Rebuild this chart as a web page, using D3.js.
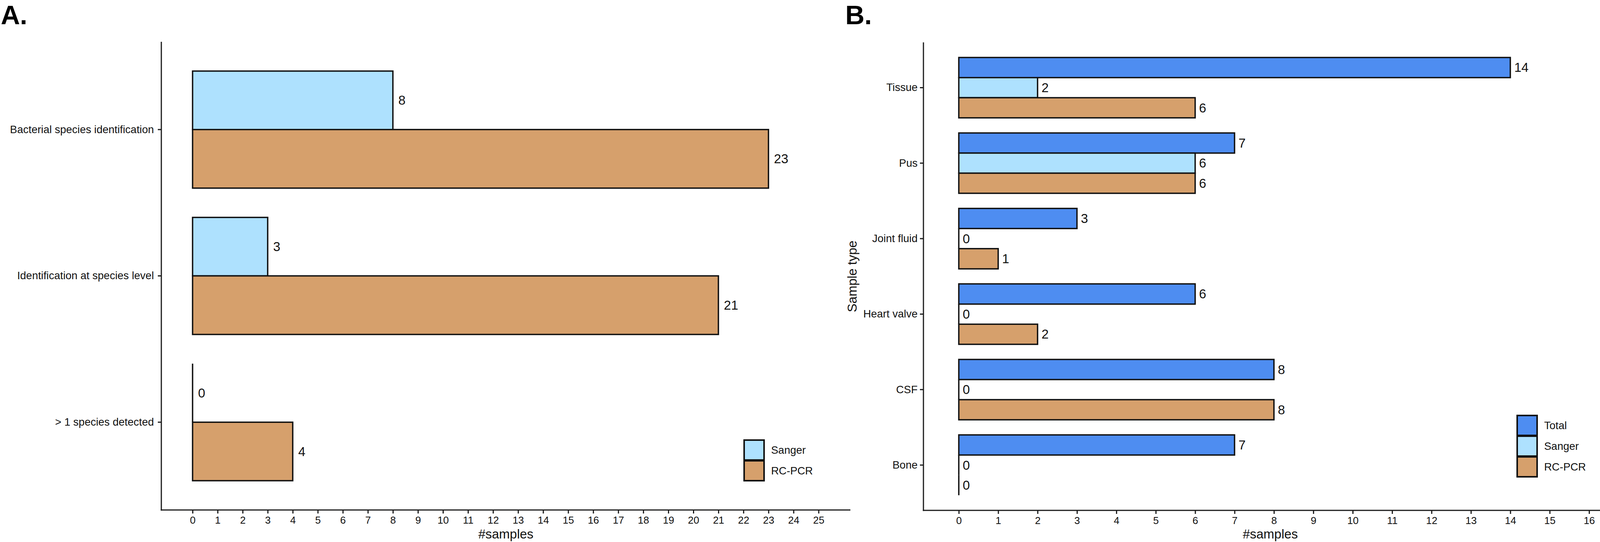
<!DOCTYPE html>
<html>
<head>
<meta charset="utf-8">
<script src="https://cdn.jsdelivr.net/npm/d3@7"></script>
<style>
html,body{margin:0;padding:0;background:#fff;}
svg{display:block;font-family:"Liberation Sans",Arial,Helvetica,sans-serif;}
</style>
</head>
<body>
<svg id="chart" width="4150" height="1388"></svg>
<script>
// ---------- Data ----------
const catsA = ["Bacterial species identification", "Identification at species level", "> 1 species detected"];
const sangerA = [8, 3, 0];
const rcpcrA = [23, 21, 4];
const ticksA = d3.range(0, 26);

const catsB = ["Tissue", "Pus", "Joint fluid", "Heart valve", "CSF", "Bone"];
const totalB = [14, 7, 3, 6, 8, 7];
const sangerB = [2, 6, 0, 0, 0, 0];
const rcpcrB = [6, 6, 1, 2, 8, 0];
const ticksB = d3.range(0, 17);

const seriesA = ["Sanger", "RC-PCR"];
const seriesB = ["Total", "Sanger", "RC-PCR"];
const colors = {"Total": "#4e8df1", "Sanger": "#aee1fe", "RC-PCR": "#d6a06c"};

const svg = d3.select("#chart");
const TXT = "#111";
const AX = "#1a1a1a";

function panel(opt) {
  const g = svg.append("g");
  const x = d3.scaleLinear().domain([0, opt.xmax]).range([opt.x0, opt.x0 + opt.xmax * opt.unit]);
  const y = d3.scaleBand().domain(opt.cats).range([opt.top, opt.bottom]).paddingInner(0.2).paddingOuter(0.2);
  const sub = d3.scaleBand().domain(opt.series).range([0, y.bandwidth()]);

  // bars
  const rows = [];
  opt.cats.forEach((c, i) => {
    opt.series.forEach((s, j) => rows.push({cat: c, s: s, v: opt.values[j][i]}));
  });
  g.selectAll("path.bar").data(rows).join("path")
    .attr("class", "bar")
    .attr("d", d => {
      const y0 = y(d.cat) + sub(d.s), y1 = y0 + sub.bandwidth();
      const x0 = x(0), x1 = x(d.v);
      return `M${x0},${y0}H${x1}V${y1}H${x0}Z`;
    })
    .attr("fill", d => colors[d.s])
    .attr("stroke", "#111")
    .attr("stroke-width", 3.5)
    .attr("stroke-linejoin", "miter");

  // value labels
  g.selectAll("text.val").data(rows).join("text")
    .attr("class", "val")
    .attr("x", d => x(d.v) + opt.labelGap)
    .attr("y", d => y(d.cat) + sub(d.s) + sub.bandwidth() / 2)
    .attr("dominant-baseline", "central")
    .attr("font-size", 33)
    .attr("fill", TXT)
    .text(d => d.v);

  // x axis
  const xa = g.append("g").attr("transform", `translate(0,${opt.bottom})`)
    .call(d3.axisBottom(x).tickValues(opt.ticks).tickSize(9).tickPadding(8).tickFormat(d3.format("d")));
  xa.select(".domain").remove();
  xa.selectAll(".tick line").attr("stroke", AX).attr("stroke-width", 3);
  xa.selectAll(".tick text").attr("font-size", 26).attr("fill", TXT).attr("font-family", null);
  g.append("line").attr("x1", opt.axisLeft - 1.5).attr("x2", opt.axisRight)
    .attr("y1", opt.bottom).attr("y2", opt.bottom).attr("stroke", AX).attr("stroke-width", 3);

  // y axis
  const ya = g.append("g").attr("transform", `translate(${opt.axisLeft},0)`)
    .call(d3.axisLeft(y).tickSize(9).tickPadding(opt.yPad));
  ya.select(".domain").remove();
  ya.selectAll(".tick line").attr("stroke", AX).attr("stroke-width", 3);
  ya.selectAll(".tick text").attr("font-size", 27.5).attr("fill", TXT).attr("font-family", null);
  g.append("line").attr("x1", opt.axisLeft).attr("x2", opt.axisLeft)
    .attr("y1", opt.top).attr("y2", opt.bottom + 1.5).attr("stroke", AX).attr("stroke-width", 3);

  // x title
  g.append("text").attr("x", (opt.axisLeft + opt.axisRight) / 2).attr("y", 1379)
    .attr("text-anchor", "middle")
    .attr("font-size", 33).attr("fill", TXT).text("#samples");

  // y title
  if (opt.ytitle) {
    g.append("text")
      .attr("transform", `translate(${opt.ytitleX},${(opt.top + opt.bottom) / 2}) rotate(-90)`)
      .attr("text-anchor", "middle").attr("dominant-baseline", "central")
      .attr("font-size", 33).attr("fill", TXT).text(opt.ytitle);
  }

  // legend
  const key = 51;
  const lg = g.append("g").attr("transform", `translate(${opt.legX},${opt.legY})`);
  opt.series.forEach((s, i) => {
    lg.append("rect").attr("x", 0).attr("y", i * (key + 2)).attr("width", key).attr("height", key)
      .attr("fill", colors[s]).attr("stroke", "#111").attr("stroke-width", 4);
    lg.append("text").attr("x", key + 18).attr("y", i * (key + 2) + key / 2)
      .attr("dominant-baseline", "central").attr("font-size", 27.5).attr("fill", TXT).text(s);
  });

  // panel tag
  svg.append("text").attr("x", opt.tagX).attr("y", 62)
    .attr("font-size", 68).attr("font-weight", "bold").attr("fill", "#000").text(opt.tag);
}

panel({
  cats: catsA, series: seriesA, values: [sangerA, rcpcrA], ticks: ticksA,
  xmax: 25, x0: 493, unit: 64.1, top: 107, bottom: 1306,
  axisLeft: 413, axisRight: 2177, labelGap: 14, yPad: 10,
  legX: 1905, legY: 1127, tag: "A.", tagX: 2
});

panel({
  cats: catsB, series: seriesB, values: [totalB, sangerB, rcpcrB], ticks: ticksB,
  xmax: 16, x0: 2454.5, unit: 100.85, top: 108.5, bottom: 1307,
  axisLeft: 2364, axisRight: 4140, labelGap: 10, yPad: 6,
  legX: 3884, legY: 1064, tag: "B.", tagX: 2164,
  ytitle: "Sample type", ytitleX: 2181
});
</script>
</body>
</html>
